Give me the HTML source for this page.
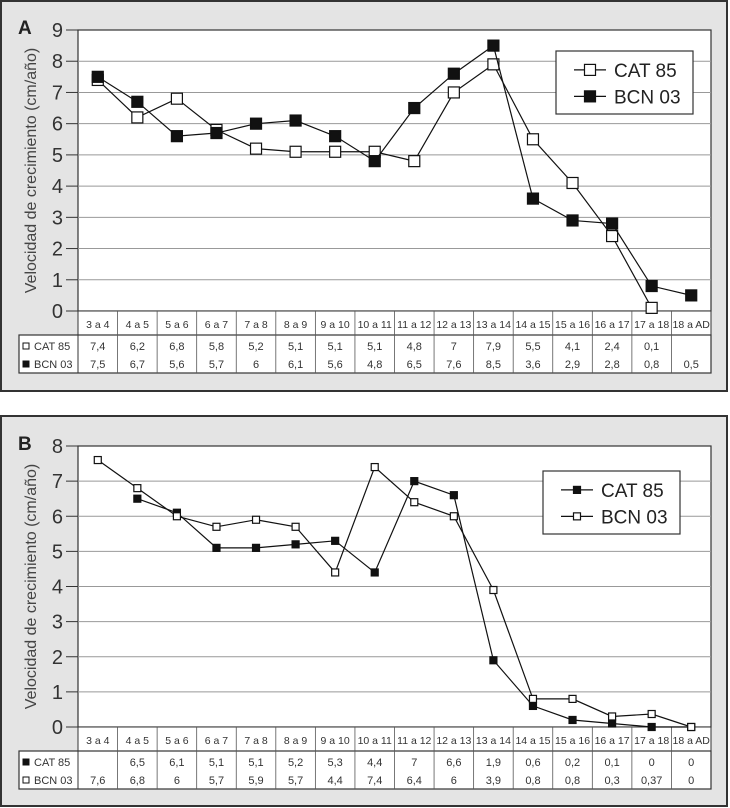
<!DOCTYPE html>
<html><head><meta charset="utf-8"><style>
body{margin:0;background:#fff;}
svg{display:block;font-family:"Liberation Sans",sans-serif;}
</style></head><body>
<svg id="s" width="730" height="808" xmlns="http://www.w3.org/2000/svg"></svg>
<script>
const categories=["3 a 4","4 a 5","5 a 6","6 a 7","7 a 8","8 a 9","9 a 10","10 a 11","11 a 12","12 a 13","13 a 14","14 a 15","15 a 16","16 a 17","17 a 18","18 a AD"];
const aCat85=[7.4,6.2,6.8,5.8,5.2,5.1,5.1,5.1,4.8,7,7.9,5.5,4.1,2.4,0.1,null];
const aBcn03=[7.5,6.7,5.6,5.7,6,6.1,5.6,4.8,6.5,7.6,8.5,3.6,2.9,2.8,0.8,0.5];
const aCat85Labels=["7,4","6,2","6,8","5,8","5,2","5,1","5,1","5,1","4,8","7","7,9","5,5","4,1","2,4","0,1",""];
const aBcn03Labels=["7,5","6,7","5,6","5,7","6","6,1","5,6","4,8","6,5","7,6","8,5","3,6","2,9","2,8","0,8","0,5"];
const bCat85=[null,6.5,6.1,5.1,5.1,5.2,5.3,4.4,7,6.6,1.9,0.6,0.2,0.1,0,0];
const bBcn03=[7.6,6.8,6,5.7,5.9,5.7,4.4,7.4,6.4,6,3.9,0.8,0.8,0.3,0.37,0];
const bCat85Labels=["","6,5","6,1","5,1","5,1","5,2","5,3","4,4","7","6,6","1,9","0,6","0,2","0,1","0","0"];
const bBcn03Labels=["7,6","6,8","6","5,7","5,9","5,7","4,4","7,4","6,4","6","3,9","0,8","0,8","0,3","0,37","0"];
const aTicks=[0,1,2,3,4,5,6,7,8,9];
const bTicks=[0,1,2,3,4,5,6,7,8];

const NS="http://www.w3.org/2000/svg";
const svg=document.getElementById('s');
function el(tag,attrs,parent,text){const e=document.createElementNS(NS,tag);for(const k in attrs)e.setAttribute(k,attrs[k]);if(text!==undefined)e.textContent=text;(parent||svg).appendChild(e);return e;}

function panel(cfg){
  const g=el('g',{});
  
  
  const L=78,R=711,colW=(R-L)/categories.length;
  const x=i=>L+colW*(i+0.5);
  const y=v=>cfg.y0-(v/cfg.max)*(cfg.y0-cfg.yTop);
  const bg=el('rect',{x:1,y:cfg.boxTop,width:726,height:cfg.boxH,fill:'#e4e4e4',stroke:'#333','stroke-width':2},g);
  
  const pa=el('rect',{x:L,y:cfg.yTop,width:R-L,height:cfg.y0-cfg.yTop,fill:'#fff',stroke:'#333','stroke-width':1.2},g);
  
  const lt=el('text',{x:18,y:cfg.yTop+4,'font-size':19,'font-weight':'bold',fill:'#222'},g,cfg.letter);
  
  cfg.ticks.forEach(t=>{
    const ty=y(t);
    if(t>0&&t<cfg.max){const gl=el('line',{x1:L,x2:R,y1:ty,y2:ty,stroke:'#999','stroke-width':1},g);}
    el('line',{x1:66,x2:L,y1:ty,y2:ty,stroke:'#333','stroke-width':1},g);
    const tl=el('text',{x:63,y:ty+7,'text-anchor':'end','font-size':20,fill:'#333'},g,String(t));
    
  });
  const cy=(cfg.yTop+cfg.y0)/2;
  const yt=el('text',{x:0,y:0,transform:`translate(36,${cy}) rotate(-90)`,'text-anchor':'middle','font-size':16,fill:'#444'},g,'Velocidad de crecimiento (cm/año)');
  
  // table
  const hB=cfg.y0+24, tB=hB+38;
  el('rect',{x:L,y:cfg.y0,width:R-L,height:24,fill:'#fff',stroke:'#333','stroke-width':1},g);
  el('rect',{x:19,y:hB,width:R-19,height:38,fill:'#fff',stroke:'#333','stroke-width':1.2},g);
  el('line',{x1:L,x2:L,y1:hB,y2:tB,stroke:'#333'},g);
  categories.forEach((c,i)=>{
    const cx=L+colW*i;
    if(i>0)el('line',{x1:cx,x2:cx,y1:cfg.y0,y2:tB,stroke:'#555','stroke-width':0.8},g);
    const ht=el('text',{x:x(i),y:cfg.y0+17,'text-anchor':'middle','font-size':10.5,fill:'#333'},g,c);
    
    el('text',{x:x(i),y:hB+15,'text-anchor':'middle','font-size':11,fill:'#333'},g,cfg.s1Labels[i]);
    el('text',{x:x(i),y:hB+33,'text-anchor':'middle','font-size':11,fill:'#333'},g,cfg.s2Labels[i]);
  });
  const names=[cfg.s1Name,cfg.s2Name];
  [0,1].forEach(k=>{
    const ry=hB+11+k*18;
    const filled=cfg.filled[k];
    el('rect',{x:23,y:ry-3,width:6,height:6,fill:filled?'#111':'#fff',stroke:'#111','stroke-width':1},g);
    const lg=el('text',{x:34,y:ry+4,'font-size':11,fill:'#333'},g,names[k]);
    
  });
  // series
  [cfg.s1,cfg.s2].forEach((s,k)=>{
    let d='';let pen=false;
    s.forEach((v,i)=>{if(v===null){pen=false;return;}d+=(pen?'L':'M')+x(i)+' '+y(v)+' ';pen=true;});
    const p=el('path',{d:d,fill:'none',stroke:'#111','stroke-width':1.2},g);
    
    const m=cfg.mk;
    s.forEach((v,i)=>{if(v===null)return;
      const r=el('rect',{x:x(i)-m/2,y:y(v)-m/2,width:m,height:m,fill:cfg.filled[k]?'#111':'#fff',stroke:'#111','stroke-width':1.2},g);
      
    });
  });
  // legend
  const lgG=el('g',{},g);
  
  const lx=cfg.leg[0],ly=cfg.leg[1],lw=cfg.leg[2],lh=cfg.leg[3];
  el('rect',{x:lx,y:ly,width:lw,height:lh,fill:'#fff',stroke:'#333','stroke-width':1.2},lgG);
  [0,1].forEach(k=>{
    const ey=ly+lh*(k===0?0.3:0.72);
    el('line',{x1:lx+18,x2:lx+50,y1:ey,y2:ey,stroke:'#111','stroke-width':1.2},lgG);
    const m=cfg.mk;
    el('rect',{x:lx+34-m/2,y:ey-m/2,width:m,height:m,fill:cfg.filled[k]?'#111':'#fff',stroke:'#111','stroke-width':1.2},lgG);
    const t=el('text',{x:lx+58,y:ey+7,'font-size':19,fill:'#222'},lgG,names[k]);
    
  });
}
panel({name:'panel-a',letter:'A',boxTop:1,boxH:390,yTop:30,y0:311,max:9,ticks:aTicks,s1:aCat85,s2:aBcn03,s1Labels:aCat85Labels,s2Labels:aBcn03Labels,s1Name:'CAT 85',s2Name:'BCN 03',filled:[false,true],mk:11,leg:[556,51,137,63]});
panel({name:'panel-b',letter:'B',boxTop:416,boxH:390,yTop:446,y0:727,max:8,ticks:bTicks,s1:bCat85,s2:bBcn03,s1Labels:bCat85Labels,s2Labels:bBcn03Labels,s1Name:'CAT 85',s2Name:'BCN 03',filled:[true,false],mk:7,leg:[543,471,137,63]});
</script>
</body></html>
